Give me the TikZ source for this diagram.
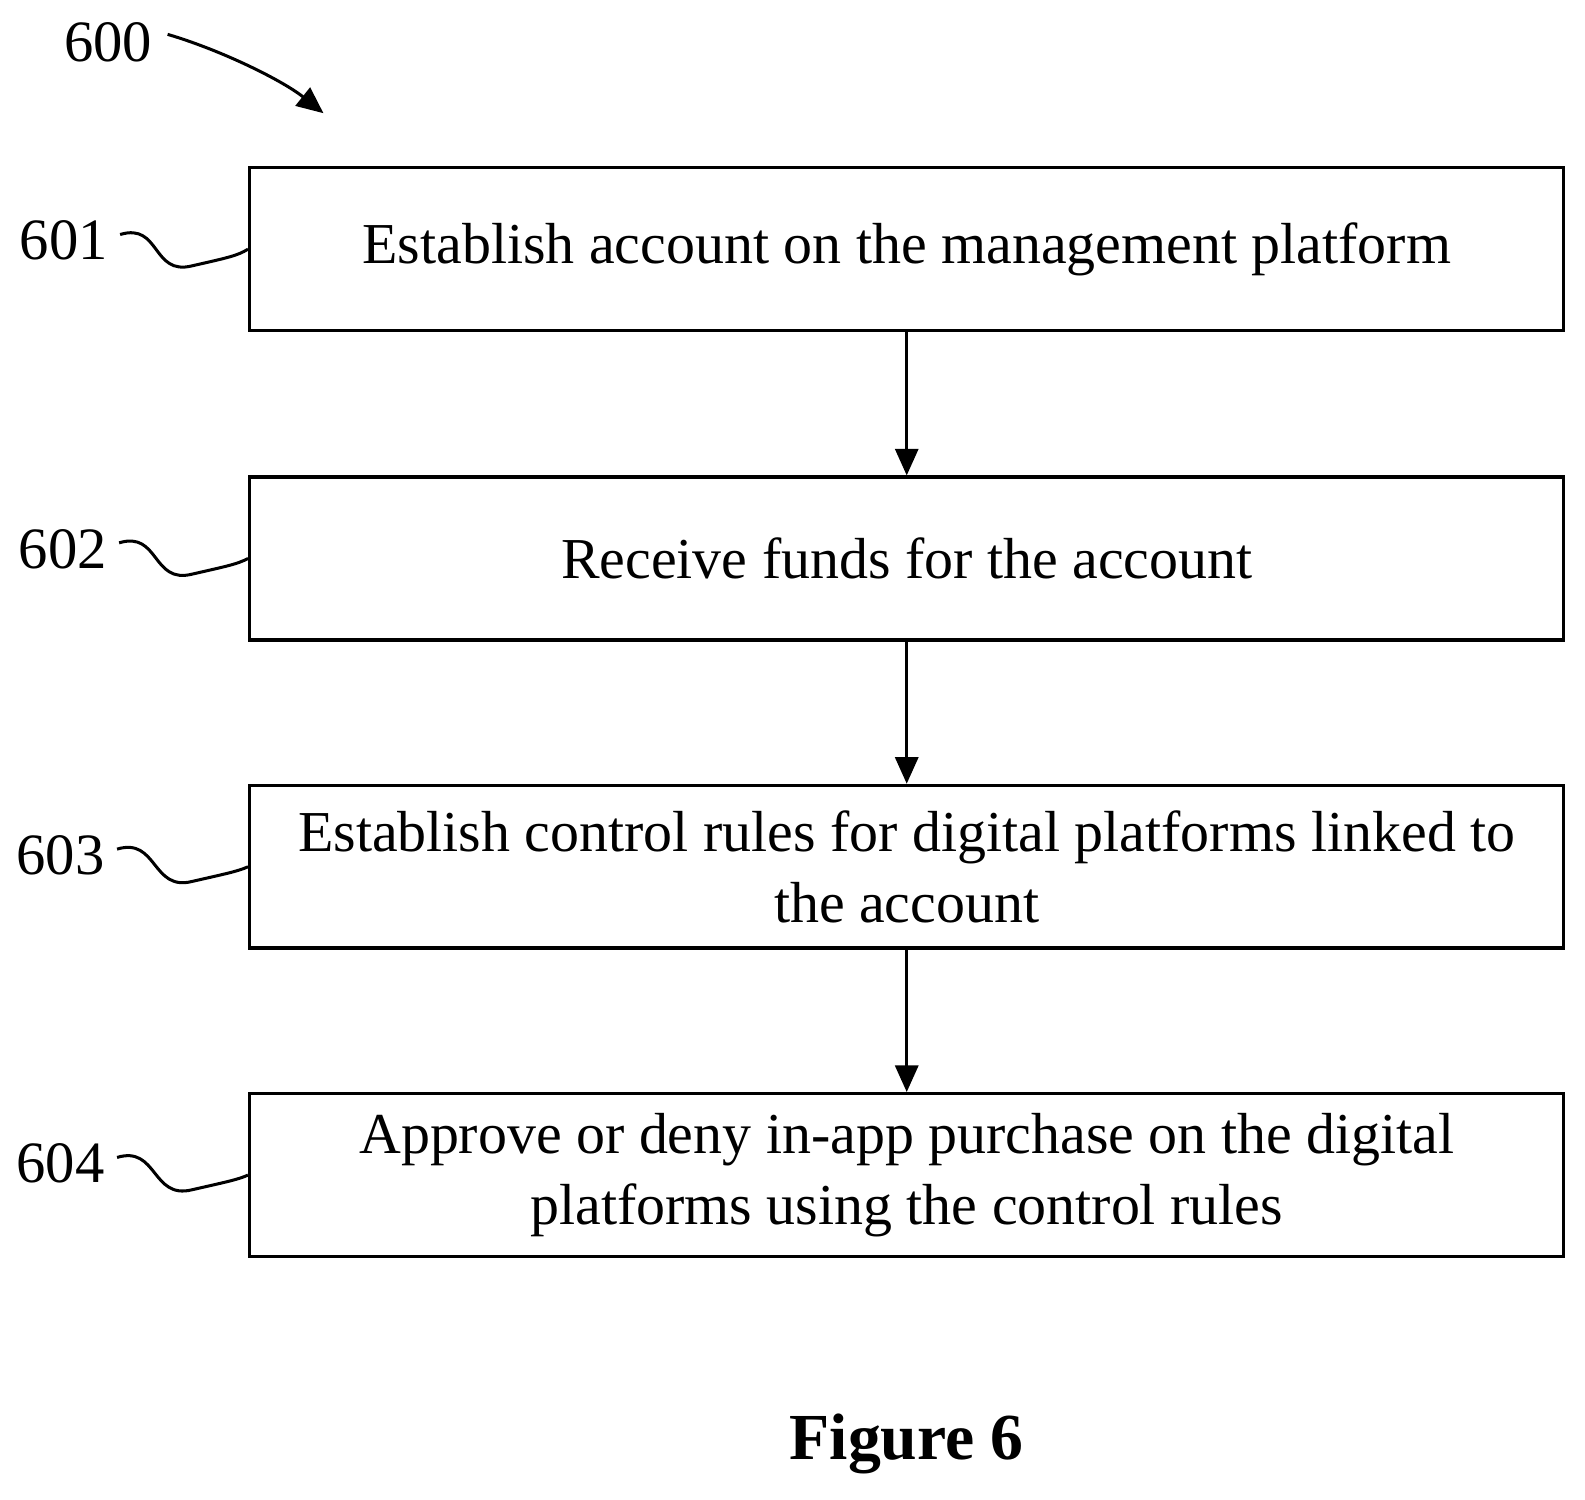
\documentclass[tikz,border=0pt]{standalone}
\usepackage{fontspec}
\setmainfont{Liberation Serif}
\usetikzlibrary{arrows.meta}
\begin{document}
\begin{tikzpicture}[x=0.02cm,y=-0.02cm,
  box/.style={draw,line width=1.9pt,minimum width=1300*0.02cm,minimum height=161*0.02cm,align=center,font=\fontsize{32.6}{40}\selectfont,inner sep=0pt},
  lab/.style={font=\fontsize{33}{38}\selectfont,inner sep=0pt},
  arr/.style={line width=1.7pt,-{Triangle[length=15pt,width=13pt]}},
  sq/.style={line width=1.7pt}]
\useasboundingbox (0,0) rectangle (1568,1483);
\node[box] (b1) at (897,246.5) {Establish account on the management platform};
\node[box] (b2) at (897,552.5) {Receive funds for the account};
\node[box] (b3) at (897,857.5) {Establish control rules for digital platforms linked to\\the account};
\node[box] (b4) at (897,1162.5) {Approve or deny in-app purchase on the digital\\platforms using the control rules};
\draw[arr] (b1) -- (b2);
\draw[arr] (b2) -- (b3);
\draw[arr] (b3) -- (b4);
\node[lab] (l0) at (107,42) {600};
\node[lab] (l1) at (63,238) {601};
\node[lab] (l2) at (62,543) {602};
\node[lab] (l3) at (60,846) {603};
\node[lab] (l4) at (60,1151) {604};
\coordinate (t0) at (320,112);
\draw[arr] (l0.east)+(15,-8) .. controls (220,50) and (280,80) .. (t0);
\foreach \i/\y in {1/233,2/538,3/842,4/1147}{
  \draw[sq] (l\i.east)++(12,-6) .. controls +(40,-12) and (150,\y+40) .. (190,\y+30) .. controls (225,\y+22) and (235,\y+20) .. (b\i.west);
}
\node[font=\bfseries\fontsize{37}{42}\selectfont] (fig) at (897,1428) {Figure 6};
\end{tikzpicture}
\end{document}
